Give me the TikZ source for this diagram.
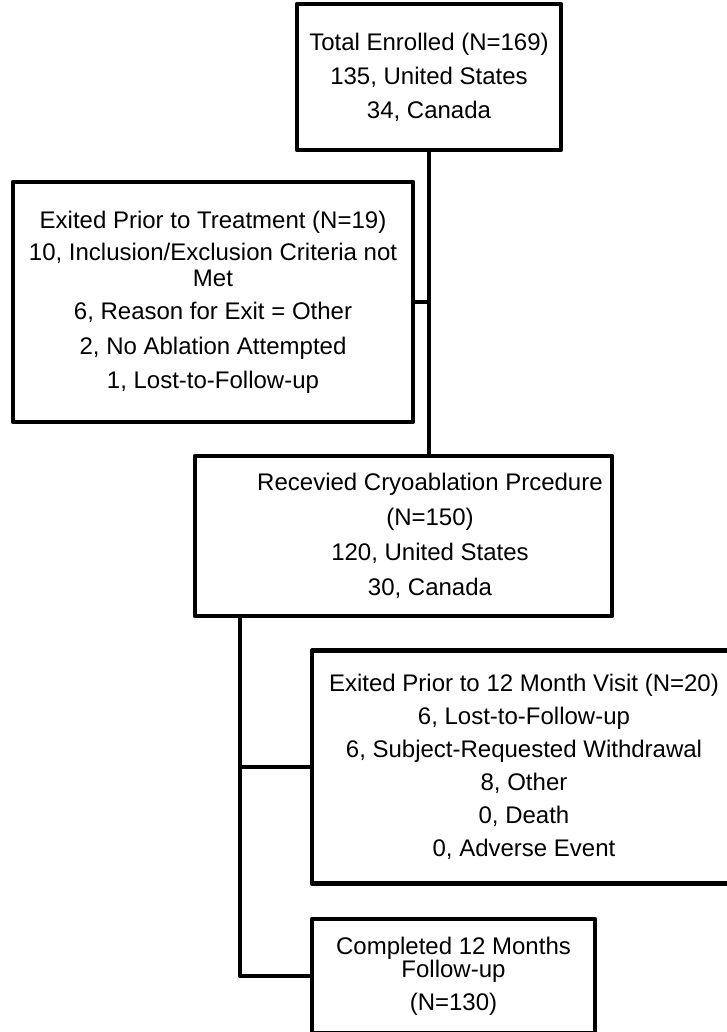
\documentclass[tikz,border=0pt]{standalone}
\usepackage{fontspec}
\setmainfont{Liberation Sans}

\begin{document}
\begin{tikzpicture}[x=1pt,y=-1pt,
    box/.style={draw, line width=4.4pt, line join=round, inner sep=0pt,
      align=center, font=\fontsize{24}{24}\selectfont},
    words/.style={align=center, inner sep=0pt, font=\fontsize{24}{24}\selectfont},
    link/.style={line width=3.8pt, line join=round}]
    \useasboundingbox (0,0) rectangle (727,1032);
    \clip (0,0) rectangle (727,1032);
    % boxes
    \node[box, minimum width=264pt, minimum height=146pt] (enrol) at (429,77)
      {Total Enrolled (N=169)\\[10pt]
       135, United States\\[10pt]
       34, Canada};
    \node[box, minimum width=400pt, minimum height=240pt] (exit1) at (213,302)
      {Exited Prior to Treatment (N=19)\\[8pt]
       10, Inclusion/Exclusion Criteria not\\[2pt]
       Met\\[9pt]
       6, Reason for Exit = Other\\[11pt]
       2, No Ablation Attempted\\[10pt]
       1, Lost-to-Follow-up};
    \node[box, minimum width=417pt, minimum height=160pt] (recv) at (403.5,536) {};
    \node[words] (recvtext) at ([xshift=26.5pt]recv.center)
      {Recevied Cryoablation Prcedure\\[11pt]
       (N=150)\\[11pt]
       120, United States\\[11pt]
       30, Canada};
    \node[box, minimum width=424pt, minimum height=233pt] (exit2) at (524,767)
      {Exited Prior to 12 Month Visit (N=20)\\[9pt]
       6, Lost-to-Follow-up\\[9pt]
       6, Subject-Requested Withdrawal\\[9pt]
       8, Other\\[9pt]
       0, Death\\[9pt]
       0, Adverse Event};
    \node[box, minimum width=283pt, minimum height=114pt] (done) at (453.5,976)
      {Completed 12 Months\\[-1pt]
       Follow-up\\[9pt]
       (N=130)};
    % connectors
    \coordinate (fork) at ([xshift=47pt]recv.south west);
    \draw[link] (enrol.south) -- (enrol.south |- recv.north);
    \draw[link] (enrol.south |- exit1.east) -- (exit1.east);
    \draw[link] (fork) -- (fork |- done.west) -- (done.west);
    \draw[link] (fork |- exit2.west) -- (exit2.west);
\end{tikzpicture}
\end{document}
